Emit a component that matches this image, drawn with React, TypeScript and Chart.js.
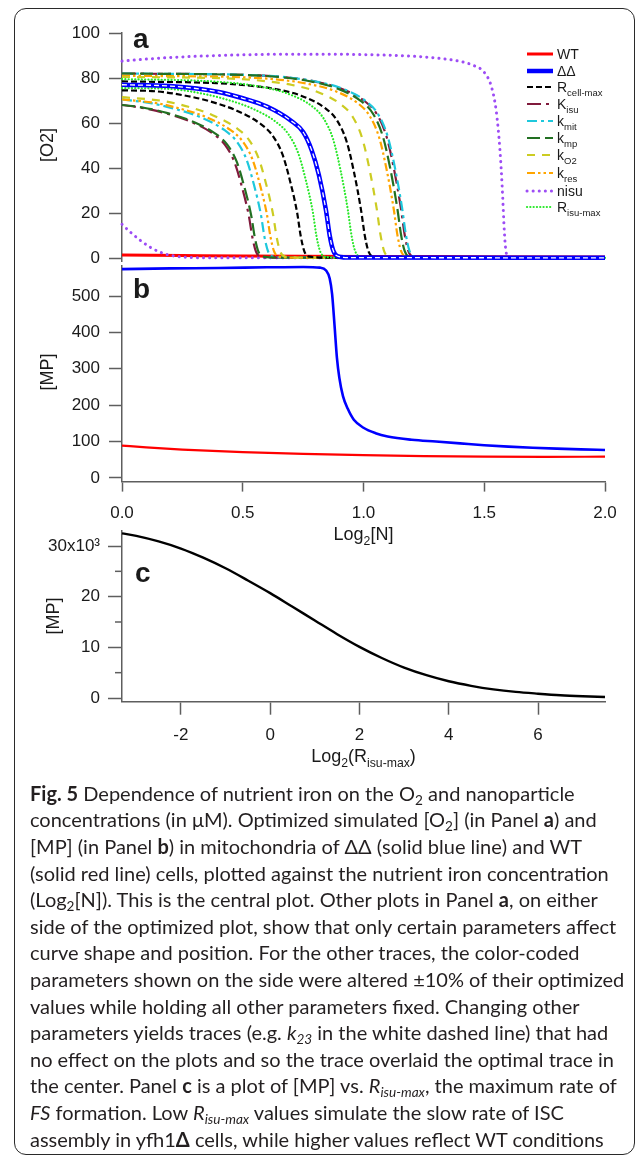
import React, { useEffect, useRef } from "react";
import { Chart, registerables } from "chart.js";

Chart.register(...registerables);

type Pt = [number, number];

/* ------------------------------------------------------------------ */
/* DATA                                                                */
/* ------------------------------------------------------------------ */

// tick labels
const aYTicks = [0, 20, 40, 60, 80, 100];
const bYTicks = [0, 100, 200, 300, 400, 500];
const nXTicks = [0, 0.5, 1.0, 1.5, 2.0];
const cYTicks = [0, 10, 20, 30];
const cYMinorTicks = [5, 15, 25];
const cXTicks = [-2, 0, 2, 4, 6];

// Panel a : [O2] vs Log2[N]
const wtO2: Pt[] = [[0, 1.3], [0.25, 1.1], [0.5, 0.9], [1.0, 0.7], [1.5, 0.6], [2.0, 0.5]];
const ddO2: Pt[] = [[0, 77], [0.2, 76.4], [0.4, 73.8], [0.5, 71], [0.6, 67.3], [0.7, 61], [0.75, 56], [0.785, 48], [0.815, 37], [0.845, 21], [0.86, 10], [0.875, 3.2], [0.895, 0.7], [0.95, 0.2], [2.0, 0.1]];
const k23O2: Pt[] = [[0, 77], [0.2, 76.4], [0.4, 73.8], [0.5, 71], [0.6, 67.3], [0.7, 61], [0.75, 56], [0.785, 48], [0.815, 37], [0.845, 21], [0.86, 10], [0.875, 3.2], [0.895, 0.7], [0.95, 0.2], [2.0, 0.1]];

const rcellLo: Pt[] = [[0, 74.5], [0.125, 74.2], [0.275, 71.9], [0.375, 69.3], [0.475, 65.5], [0.575, 59.5], [0.625, 54.2], [0.665, 45.9], [0.695, 34.6], [0.725, 20.3], [0.74, 9.8], [0.755, 3.0], [0.775, 0.6], [0.85, 0.15], [2, 0.1]];
const rcellHi: Pt[] = [[0, 78.5], [0.39, 77.7], [0.54, 76.5], [0.64, 75], [0.74, 72.2], [0.84, 66.7], [0.89, 61.2], [0.93, 51.8], [0.96, 38.5], [0.99, 21.2], [1.005, 10.2], [1.02, 3.1], [1.04, 0.6], [1.1, 0.15], [2, 0.1]];
const kisuLo: Pt[] = [[0, 68], [0.075, 66.9], [0.175, 64.5], [0.275, 61.0], [0.375, 55.4], [0.425, 50.5], [0.465, 42.8], [0.495, 32.2], [0.525, 18.9], [0.54, 9.1], [0.555, 2.8], [0.575, 0.6], [0.65, 0.15], [2, 0.1]];
const kisuHi: Pt[] = [[0, 82], [0.555, 81.2], [0.705, 80], [0.805, 78.3], [0.905, 75.4], [1.005, 69.7], [1.055, 64], [1.095, 54.1], [1.125, 40.2], [1.155, 22.1], [1.17, 10.7], [1.185, 3.3], [1.205, 0.65], [1.27, 0.15], [2, 0.1]];
const kmitLo: Pt[] = [[0, 70.5], [0.125, 68.7], [0.225, 66.1], [0.325, 62.6], [0.425, 56.8], [0.475, 51.8], [0.515, 43.9], [0.545, 33.1], [0.575, 19.4], [0.59, 9.3], [0.605, 2.9], [0.625, 0.6], [0.7, 0.15], [2, 0.1]];
const kmitHi: Pt[] = [[0, 82], [0.56, 81.2], [0.71, 80], [0.81, 78.3], [0.91, 75.4], [1.01, 69.7], [1.06, 64], [1.1, 54.1], [1.13, 40.2], [1.16, 22.1], [1.175, 10.7], [1.19, 3.3], [1.21, 0.65], [1.28, 0.15], [2, 0.1]];
const kmpLo: Pt[] = [[0, 68], [0.085, 66.9], [0.185, 64.5], [0.285, 61.0], [0.385, 55.4], [0.435, 50.5], [0.475, 42.8], [0.505, 32.2], [0.535, 18.9], [0.55, 9.1], [0.565, 2.8], [0.585, 0.6], [0.66, 0.15], [2, 0.1]];
const kmpHi: Pt[] = [[0, 82], [0.54, 81.2], [0.69, 80], [0.79, 78.3], [0.89, 75.4], [0.99, 69.7], [1.04, 64], [1.08, 54.1], [1.11, 40.2], [1.14, 22.1], [1.155, 10.7], [1.17, 3.3], [1.19, 0.65], [1.25, 0.15], [2, 0.1]];
const kO2Lo: Pt[] = [[0, 71.5], [0.175, 69.7], [0.275, 67.2], [0.375, 63.5], [0.475, 57.7], [0.525, 52.6], [0.565, 44.5], [0.595, 33.6], [0.625, 19.7], [0.64, 9.5], [0.655, 2.9], [0.675, 0.6], [0.75, 0.15], [2, 0.1]];
const kO2Hi: Pt[] = [[0, 80.5], [0.455, 79.7], [0.605, 78.5], [0.705, 76.9], [0.805, 74], [0.905, 68.4], [0.955, 62.8], [0.995, 53.1], [1.025, 39.4], [1.055, 21.7], [1.07, 10.5], [1.085, 3.2], [1.105, 0.6], [1.17, 0.15], [2, 0.1]];
const kresLo: Pt[] = [[0, 70.5], [0.15, 68.7], [0.25, 66.1], [0.35, 62.6], [0.45, 56.8], [0.5, 51.8], [0.54, 43.9], [0.57, 33.1], [0.6, 19.4], [0.615, 9.3], [0.63, 2.9], [0.65, 0.6], [0.72, 0.15], [2, 0.1]];
const kresHi: Pt[] = [[0, 81], [0.525, 80.2], [0.675, 79], [0.775, 77.3], [0.875, 74.5], [0.975, 68.9], [1.025, 63.2], [1.065, 53.5], [1.095, 39.7], [1.125, 21.9], [1.14, 10.5], [1.155, 3.3], [1.175, 0.65], [1.24, 0.15], [2, 0.1]];
const nisuLo: Pt[] = [[0, 15], [0.04, 11], [0.08, 7.5], [0.12, 4.6], [0.16, 2.5], [0.2, 1.2], [0.26, 0.4], [0.35, 0.15], [2, 0.1]];
const nisuHi: Pt[] = [[0, 87.5], [0.1, 88.4], [0.2, 89.1], [0.4, 90], [0.6, 90.5], [0.8, 90.6], [1.0, 90.4], [1.2, 89.7], [1.3, 88.9], [1.4, 87.4], [1.45, 85.8], [1.5, 82.5], [1.53, 76], [1.55, 65], [1.565, 48], [1.575, 30], [1.583, 12], [1.59, 3], [1.6, 0.5], [1.7, 0.15], [2, 0.1]];
const risuLo: Pt[] = [[0, 75.5], [0.19, 75.2], [0.34, 72.9], [0.44, 70.2], [0.54, 66.4], [0.64, 60.3], [0.69, 54.9], [0.73, 46.5], [0.76, 35.1], [0.79, 20.6], [0.805, 9.9], [0.82, 3.1], [0.84, 0.6], [0.9, 0.15], [2, 0.1]];
const risuHi: Pt[] = [[0, 79.5], [0.335, 78.7], [0.485, 77.5], [0.585, 75.9], [0.685, 73.1], [0.785, 67.6], [0.835, 62], [0.875, 52.5], [0.905, 39], [0.935, 21.5], [0.95, 10.3], [0.965, 3.2], [0.985, 0.6], [1.05, 0.15], [2, 0.1]];

// Panel b : [MP] vs Log2[N]
const ddMP: Pt[] = [[0, 574], [0.2, 576], [0.4, 577], [0.6, 579], [0.75, 580], [0.82, 578], [0.845, 570], [0.86, 548], [0.87, 505], [0.88, 420], [0.89, 330], [0.9, 275], [0.915, 225], [0.935, 190], [0.96, 160], [1.0, 138], [1.05, 123], [1.1, 114], [1.2, 105], [1.3, 100], [1.4, 95], [1.5, 90], [1.6, 86], [1.7, 83], [1.8, 80.5], [1.9, 78.5], [2.0, 77]];
const wtMP: Pt[] = [[0, 89], [0.1, 84], [0.25, 78], [0.5, 71], [0.75, 66], [1.0, 62.5], [1.25, 60], [1.5, 58.5], [1.75, 58], [2.0, 58.5]];

// Panel c : [MP] (x10^3) vs Log2(Risu-max)
const cLog2Risu = [-3.32, -3, -2.5, -2, -1.5, -1, -0.5, 0, 0.5, 1, 1.5, 2, 2.5, 3, 3.5, 4, 4.5, 5, 5.5, 6, 6.5, 7, 7.5];
const cMPThousands = [32.5, 32.0, 30.9, 29.5, 27.7, 25.6, 23.2, 20.7, 18.0, 15.3, 12.6, 10.1, 7.9, 6.0, 4.5, 3.3, 2.4, 1.7, 1.2, 0.85, 0.55, 0.35, 0.2];

/* ------------------------------------------------------------------ */
/* STYLE / LAYOUT                                                      */
/* ------------------------------------------------------------------ */

const AXIS_FONT = '"Liberation Sans", Arial, sans-serif';
const CAP_FONT = 'Lato, "Open Sans", sans-serif';
const AXIS_COLOR = "#5e5e5e";
const TEXT_COLOR = "#1a1a1a";
const CW = 636;
const CH = 800;
const PLOT_LEFT = 122;
const PLOT_RIGHT = 605;

interface LineStyle { color: string; width: number; dash: number[]; round?: boolean }

const S: Record<string, LineStyle> = {
  wt: { color: "#ff0000", width: 3, dash: [] },
  dd: { color: "#0000ff", width: 4.5, dash: [] },
  k23: { color: "#ffffff", width: 1.3, dash: [5, 3] },
  rcell: { color: "#000000", width: 2.2, dash: [6, 3] },
  kisu: { color: "#801a3c", width: 2.2, dash: [14, 5, 3, 5] },
  kmit: { color: "#1ec8dc", width: 2.2, dash: [10, 4, 3, 4] },
  kmp: { color: "#227022", width: 2.2, dash: [13, 5] },
  kO2: { color: "#cccc22", width: 2.2, dash: [8, 7] },
  kres: { color: "#ffa500", width: 2.2, dash: [8, 3, 2.5, 3, 2.5, 3] },
  nisu: { color: "#9d4cf5", width: 3, dash: [0.1, 6], round: true },
  risu: { color: "#28e828", width: 2.2, dash: [0.1, 3.2], round: true },
  ddB: { color: "#0000ff", width: 2.6, dash: [] },
  wtB: { color: "#ff0000", width: 2.2, dash: [] },
  c: { color: "#000000", width: 2.4, dash: [] },
};

type Seg = { t: string; sub?: boolean; sup?: boolean; italic?: boolean };

const legendRows: { segs: Seg[]; st: LineStyle; y: number }[] = [
  { segs: [{ t: "WT" }], st: S.wt, y: 54 },
  { segs: [{ t: "ΔΔ" }], st: S.dd, y: 71 },
  { segs: [{ t: "R" }, { t: "cell-max", sub: true }], st: S.rcell, y: 87 },
  { segs: [{ t: "K" }, { t: "isu", sub: true }], st: S.kisu, y: 104 },
  { segs: [{ t: "k" }, { t: "mit", sub: true }], st: S.kmit, y: 121 },
  { segs: [{ t: "k" }, { t: "mp", sub: true }], st: S.kmp, y: 138 },
  { segs: [{ t: "k" }, { t: "O2", sub: true }], st: S.kO2, y: 155 },
  { segs: [{ t: "k" }, { t: "res", sub: true }], st: S.kres, y: 173 },
  { segs: [{ t: "nisu" }], st: S.nisu, y: 191 },
  { segs: [{ t: "R" }, { t: "isu-max", sub: true }], st: S.risu, y: 207 },
];

function drawRich(ctx: CanvasRenderingContext2D, segs: Seg[], x: number, y: number, size: number, align: "left" | "center") {
  const font = (s: Seg, sz: number) => `${s.italic ? "italic " : ""}${sz}px ${AXIS_FONT}`;
  const sizes = segs.map((s) => (s.sub || s.sup ? size * 0.68 : size));
  let total = 0;
  const widths = segs.map((s, i) => {
    ctx.font = font(s, sizes[i]);
    const w = ctx.measureText(s.t).width;
    total += w;
    return w;
  });
  let cx = align === "center" ? x - total / 2 : x;
  ctx.textAlign = "left";
  ctx.textBaseline = "alphabetic";
  segs.forEach((s, i) => {
    ctx.font = font(s, sizes[i]);
    const dy = s.sub ? size * 0.3 : s.sup ? -size * 0.42 : 0;
    ctx.fillText(s.t, cx, y + dy);
    cx += widths[i];
  });
}

function drawRotated(ctx: CanvasRenderingContext2D, text: string, cx: number, cy: number, size: number) {
  ctx.save();
  ctx.translate(cx, cy);
  ctx.rotate(-Math.PI / 2);
  ctx.font = `${size}px ${AXIS_FONT}`;
  ctx.textAlign = "center";
  ctx.textBaseline = "middle";
  ctx.fillText(text, 0, 0);
  ctx.restore();
}

function drawLetter(ctx: CanvasRenderingContext2D, letter: string, x: number, y: number) {
  ctx.font = `bold 28px ${AXIS_FONT}`;
  ctx.textAlign = "left";
  ctx.textBaseline = "alphabetic";
  ctx.fillText(letter, x, y);
}

function lineDataset(pts: Pt[], st: LineStyle) {
  return {
    data: pts.map(([x, y]) => ({ x, y })),
    borderColor: st.color,
    borderWidth: st.width,
    borderDash: st.dash,
    borderCapStyle: st.round ? "round" : "butt",
    borderJoinStyle: "round",
    pointRadius: 0,
    fill: false,
    cubicInterpolationMode: "monotone",
    clip: false,
  } as any;
}

function yAxis(min: number, max: number, ticks: number[], tickLen: number, pad: number, fmt?: (v: number) => string) {
  return {
    type: "linear",
    position: "left",
    min,
    max,
    afterBuildTicks: (s: any) => {
      s.ticks = ticks.map((v) => ({ value: v }));
    },
    afterFit: (s: any) => {
      s.width = PLOT_LEFT;
    },
    ticks: {
      color: TEXT_COLOR,
      font: { family: AXIS_FONT, size: 17 },
      padding: pad,
      autoSkip: false,
      ...(fmt ? { callback: (v: any) => fmt(Number(v)) } : {}),
    },
    grid: { display: true, drawOnChartArea: false, drawTicks: true, tickLength: tickLen, tickColor: AXIS_COLOR, tickWidth: 1.5 },
    border: { display: true, color: AXIS_COLOR, width: 1.5 },
  } as any;
}

function xAxis(min: number, max: number, ticks: number[], tickLen: number, pad: number, boxH: number, fmt?: (v: number) => string) {
  return {
    type: "linear",
    position: "bottom",
    min,
    max,
    afterBuildTicks: (s: any) => {
      s.ticks = ticks.map((v) => ({ value: v }));
    },
    afterFit: (s: any) => {
      s.height = boxH;
    },
    ticks: {
      color: TEXT_COLOR,
      font: { family: AXIS_FONT, size: 17 },
      padding: pad,
      autoSkip: false,
      maxRotation: 0,
      ...(fmt ? { callback: (v: any) => fmt(Number(v)) } : {}),
    },
    grid: { display: true, drawOnChartArea: false, drawTicks: true, tickLength: tickLen, tickColor: AXIS_COLOR, tickWidth: 1.5 },
    border: { display: true, color: AXIS_COLOR, width: 1.5 },
  } as any;
}

const baseOptions = (padding: any, scales: any) =>
  ({
    responsive: false,
    animation: false,
    devicePixelRatio: 1,
    events: [],
    layout: { padding },
    plugins: { legend: { display: false }, tooltip: { enabled: false } },
    scales,
  } as any);

/* plugins drawing panel decorations */
const panelAPlugin = {
  id: "panelA",
  afterDraw(chart: any) {
    const ctx: CanvasRenderingContext2D = chart.ctx;
    ctx.save();
    ctx.fillStyle = TEXT_COLOR;
    drawLetter(ctx, "a", 133, 48);
    drawRotated(ctx, "[O2]", 48, 145, 18);
    legendRows.forEach((row) => {
      ctx.save();
      ctx.strokeStyle = row.st.color;
      ctx.lineWidth = row.st.width;
      ctx.setLineDash(row.st.dash);
      ctx.lineCap = row.st.round ? "round" : "butt";
      ctx.beginPath();
      ctx.moveTo(527, row.y);
      ctx.lineTo(553, row.y);
      ctx.stroke();
      ctx.restore();
      ctx.fillStyle = TEXT_COLOR;
      drawRich(ctx, row.segs, 557, row.y + 5, 14, "left");
    });
    ctx.restore();
  },
};

const panelBPlugin = {
  id: "panelB",
  afterDraw(chart: any) {
    const ctx: CanvasRenderingContext2D = chart.ctx;
    ctx.save();
    ctx.fillStyle = TEXT_COLOR;
    drawLetter(ctx, "b", 133, 298);
    drawRotated(ctx, "[MP]", 48, 372, 18);
    drawRich(ctx, [{ t: "Log" }, { t: "2", sub: true }, { t: "[N]" }], (PLOT_LEFT + PLOT_RIGHT) / 2, 540, 18, "center");
    ctx.restore();
  },
};

const panelCPlugin = {
  id: "panelC",
  afterDraw(chart: any) {
    const ctx: CanvasRenderingContext2D = chart.ctx;
    const ys = chart.scales.y;
    ctx.save();
    ctx.strokeStyle = AXIS_COLOR;
    ctx.lineWidth = 1.5;
    cYMinorTicks.forEach((v) => {
      const py = ys.getPixelForValue(v);
      ctx.beginPath();
      ctx.moveTo(ys.right - 7, py);
      ctx.lineTo(ys.right, py);
      ctx.stroke();
    });
    ctx.fillStyle = TEXT_COLOR;
    drawLetter(ctx, "c", 135, 582);
    drawRotated(ctx, "[MP]", 54, 616, 18);
    drawRich(ctx, [{ t: "Log" }, { t: "2", sub: true }, { t: "(R" }, { t: "isu-max", sub: true }, { t: ")" }], (PLOT_LEFT + PLOT_RIGHT) / 2, 762, 18, "center");
    ctx.restore();
  },
};

/* caption */
const subStyle: React.CSSProperties = { fontSize: "0.68em", verticalAlign: "baseline", position: "relative", top: "0.3em", lineHeight: 0 };
const Sub = ({ children }: { children: React.ReactNode }) => <sub style={subStyle}>{children}</sub>;

const captionLines: React.ReactNode[] = [
  <><b>Fig. 5</b> Dependence of nutrient iron on the O<Sub>2</Sub> and nanoparticle</>,
  <>concentrations (in μM). Optimized simulated [O<Sub>2</Sub>] (in Panel <b>a</b>) and</>,
  <>[MP] (in Panel <b>b</b>) in mitochondria of ΔΔ (solid blue line) and WT</>,
  <>(solid red line) cells, plotted against the nutrient iron concentration</>,
  <>(Log<Sub>2</Sub>[N]). This is the central plot. Other plots in Panel <b>a</b>, on either</>,
  <>side of the optimized plot, show that only certain parameters affect</>,
  <>curve shape and position. For the other traces, the color-coded</>,
  <>parameters shown on the side were altered ±10% of their optimized</>,
  <>values while holding all other parameters fixed. Changing other</>,
  <>parameters yields traces (e.g. <i>k</i><Sub><i>23</i></Sub> in the white dashed line) that had</>,
  <>no effect on the plots and so the trace overlaid the optimal trace in</>,
  <>the center. Panel <b>c</b> is a plot of [MP] vs. <i>R</i><Sub><i>isu-max</i></Sub>, the maximum rate of</>,
  <><i>FS</i> formation. Low <i>R</i><Sub><i>isu-max</i></Sub> values simulate the slow rate of ISC</>,
  <>assembly in yfh1<b>Δ</b> cells, while higher values reflect WT conditions</>,
];

const CAP_TOP = 779.7;
const CAP_LH = 26.6;

export default function App() {
  const refA = useRef<HTMLCanvasElement>(null);
  const refB = useRef<HTMLCanvasElement>(null);
  const refC = useRef<HTMLCanvasElement>(null);

  useEffect(() => {
    const right = CW - PLOT_RIGHT;

    const chartA = new Chart(refA.current!, {
      type: "line",
      data: {
        datasets: [
          lineDataset(k23O2, S.k23),
          lineDataset(ddO2, S.dd),
          lineDataset(risuHi, S.risu),
          lineDataset(risuLo, S.risu),
          lineDataset(rcellHi, S.rcell),
          lineDataset(rcellLo, S.rcell),
          lineDataset(kO2Hi, S.kO2),
          lineDataset(kO2Lo, S.kO2),
          lineDataset(kresHi, S.kres),
          lineDataset(kresLo, S.kres),
          lineDataset(kmpHi, S.kmp),
          lineDataset(kmpLo, S.kmp),
          lineDataset(kmitHi, S.kmit),
          lineDataset(kmitLo, S.kmit),
          lineDataset(kisuHi, S.kisu),
          lineDataset(kisuLo, S.kisu),
          lineDataset(nisuHi, S.nisu),
          lineDataset(nisuLo, S.nisu),
          lineDataset(wtO2, S.wt),
        ],
      },
      options: baseOptions(
        { top: 33, right, bottom: CH - 261.4, left: 0 },
        {
          x: { type: "linear", min: 0, max: 2, display: false },
          y: yAxis(-1.5, 100, aYTicks, 13, 9),
        }
      ),
      plugins: [panelAPlugin],
    });

    const chartB = new Chart(refB.current!, {
      type: "line",
      data: { datasets: [lineDataset(ddMP, S.ddB), lineDataset(wtMP, S.wtB)] },
      options: baseOptions(
        { top: 266.2, right, bottom: 0, left: 0 },
        {
          x: xAxis(0, 2, nXTicks, 10, 12, CH - 481.6, (v) => v.toFixed(1)),
          y: yAxis(-10, 582, bYTicks, 13, 9),
        }
      ),
      plugins: [panelBPlugin],
    });

    const chartC = new Chart(refC.current!, {
      type: "line",
      data: {
        datasets: [lineDataset(cLog2Risu.map((x, i) => [x, cMPThousands[i]] as Pt), S.c)],
      },
      options: baseOptions(
        { top: 530.8, right, bottom: 0, left: 0 },
        {
          x: xAxis(-3.32, 7.5, cXTicks, 13, 10, CH - 701.7),
          y: yAxis(-0.73, 33, cYTicks, 14, 8, (v) => (v === 30 ? "30x10³" : String(v))),
        }
      ),
      plugins: [panelCPlugin],
    });

    return () => {
      chartA.destroy();
      chartB.destroy();
      chartC.destroy();
    };
  }, []);

  const canvasStyle: React.CSSProperties = { position: "absolute", left: 0, top: 0, width: CW, height: CH };

  return (
    <div style={{ position: "fixed", left: 0, top: 0, width: 636, height: 1157, background: "#fff", overflow: "hidden" }}>
      <div
        style={{
          position: "absolute",
          left: 14,
          top: 8,
          width: 621,
          height: 1147,
          border: "1.5px solid #2a2a2a",
          borderRadius: 12,
          boxSizing: "border-box",
        }}
      />
      <canvas ref={refA} width={CW} height={CH} style={canvasStyle} />
      <canvas ref={refB} width={CW} height={CH} style={canvasStyle} />
      <canvas ref={refC} width={CW} height={CH} style={canvasStyle} />
      {captionLines.map((ln, i) => (
        <div
          key={i}
          style={{
            position: "absolute",
            left: 30,
            top: CAP_TOP + i * CAP_LH,
            height: CAP_LH,
            lineHeight: `${CAP_LH}px`,
            fontFamily: CAP_FONT,
            fontSize: 20,
            color: "#231f20",
            whiteSpace: "nowrap",
          }}
        >
          {ln}
        </div>
      ))}
    </div>
  );
}
